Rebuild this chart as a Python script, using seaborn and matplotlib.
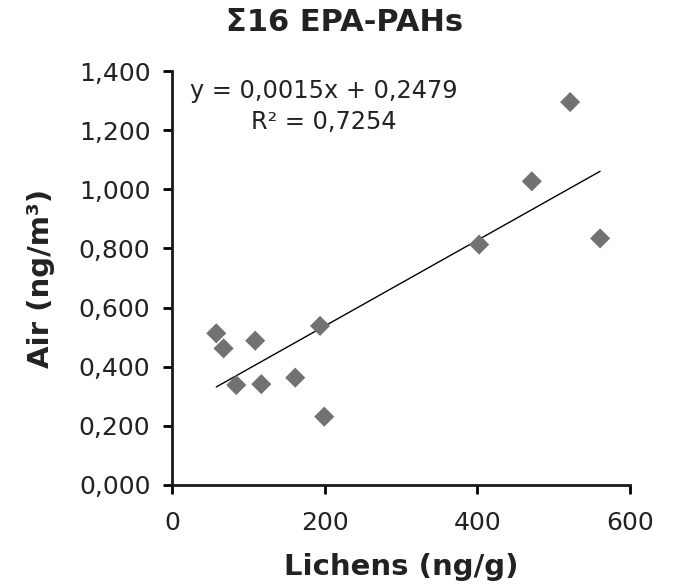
import seaborn as sns
import matplotlib.pyplot as plt
import pandas as pd

# values
lichens = [58, 67.6, 84.2, 109, 117, 161.5, 194, 199.5, 402.5, 471.5, 521.7, 561]
air = [0.513, 0.462, 0.338, 0.488, 0.341, 0.363, 0.538, 0.231, 0.813, 1.027, 1.295, 0.834]

x_ticks = [0, 200, 400, 600]
y_ticks = [0.0, 0.2, 0.4, 0.6, 0.8, 1.0, 1.2, 1.4]
y_tick_labels = ["0,000", "0,200", "0,400", "0,600", "0,800", "1,000", "1,200", "1,400"]

equation = "y = 0,0015x + 0,2479\nR² = 0,7254"

df = pd.DataFrame({"lichens": lichens, "air": air})

sns.set_style("ticks")
plt.rcParams['font.family'] = ['DejaVu Sans']

fig = plt.figure(figsize=(6.78, 5.87), dpi=100)
ax = fig.add_axes([0.2537, 0.1738, 0.929 - 0.2537, 0.879 - 0.1738])

sns.regplot(data=df, x="lichens", y="air", ci=None, marker="D", ax=ax,
            scatter_kws={"s": 105, "color": "#727272", "edgecolor": "none", "alpha": 1, "zorder": 3},
            line_kws={"color": "black", "linewidth": 1.0, "zorder": 2})

ax.set_xlim(0, 600)
ax.set_ylim(0, 1.4)
ax.set_xticks(x_ticks)
ax.set_yticks(y_ticks)
ax.set_yticklabels(y_tick_labels)
ax.tick_params(axis="both", labelsize=18, length=6.5, width=2, direction="out",
               colors="black", labelcolor="#222222")
ax.tick_params(axis="y", pad=9)
ax.tick_params(axis="x", pad=12)

for side in ["top", "right"]:
    ax.spines[side].set_visible(False)
for side in ["left", "bottom"]:
    ax.spines[side].set_linewidth(2)
    ax.spines[side].set_color("#1a1a1a")

ax.set_xlabel("Lichens (ng/g)", fontsize=21, fontweight="bold", color="#222222")
ax.set_ylabel("Air (ng/m³)", fontsize=21, fontweight="bold", color="#222222")
ax.xaxis.label.set_va("center")
ax.yaxis.label.set_va("center")
ax.xaxis.set_label_coords(0.5, -0.198)
ax.yaxis.set_label_coords(-0.286, 0.5)

ax.text(0.331, 0.915, equation, transform=ax.transAxes, ha="center", va="center",
        fontsize=17.3, color="#222222", linespacing=1.35, multialignment="center")

fig.suptitle("Σ16 EPA-PAHs", x=0.508, y=0.962, va="center", fontsize=22,
             fontweight="bold", color="#222222")

fig.savefig("out.png", dpi=100)
